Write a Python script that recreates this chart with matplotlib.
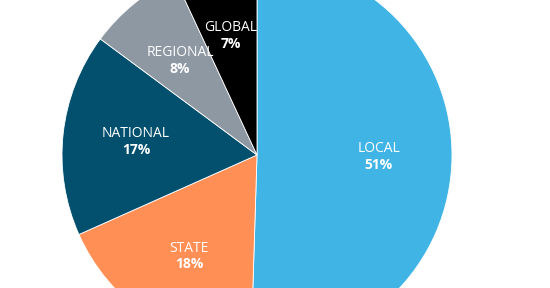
import numpy as np
import matplotlib.pyplot as plt

labels = ["LOCAL", "STATE", "NATIONAL", "REGIONAL", "GLOBAL"]
values = [51, 18, 17, 8, 7]
colors = ["#41b4e6", "#ff8f55", "#02506e", "#8e98a3", "#000000"]

fig = plt.figure(figsize=(5.5, 2.88), dpi=100)
ax = fig.add_axes([0, 0, 1, 1])

wedges, _ = ax.pie(values, colors=colors, startangle=90, counterclock=False,
                   radius=1, wedgeprops=dict(edgecolor="white", linewidth=0.6))

# pie is cropped by the figure: centre at (257, 155) px, radius 195 px
ax.set_xlim(-257 / 195, (550 - 257) / 195)
ax.set_ylim(-(288 - 155) / 195, 155 / 195)
ax.set_aspect("equal", adjustable="datalim")
ax.axis("off")

for w, name, v in zip(wedges, labels, values):
    ang = np.deg2rad((w.theta1 + w.theta2) / 2)
    x = 0.625 * np.cos(ang)
    y = 0.625 * np.sin(ang)
    ax.text(x, y + 0.042, name, color="white", fontsize=10, family="Open Sans",
            fontweight="normal", ha="center", va="center")
    ax.text(x, y - 0.042, str(v) + "%", color="white", fontsize=10, family="Open Sans",
            fontweight="bold", ha="center", va="center")

fig.savefig("out.png", dpi=100)
